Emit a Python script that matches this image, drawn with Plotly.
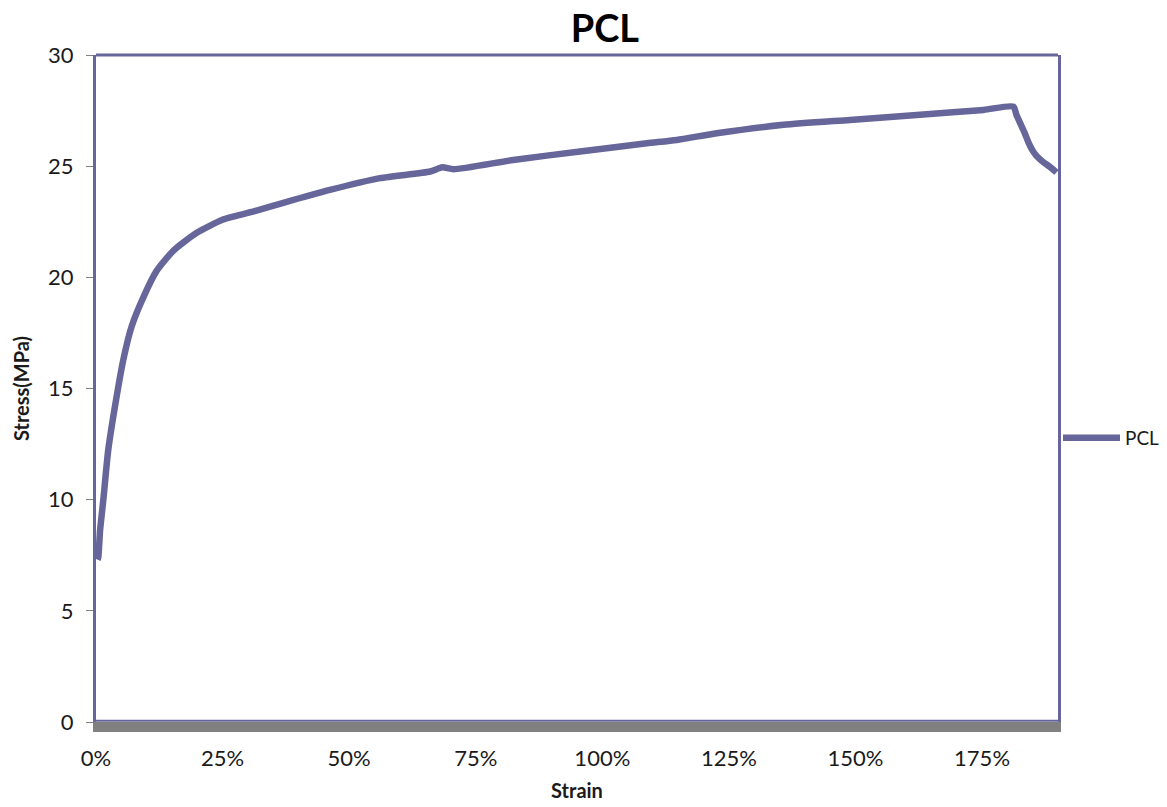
import plotly.graph_objects as go

# Tensile test of PCL: engineering strain (fraction) vs stress (MPa)
strain = [0.003, 0.0045, 0.008, 0.0145, 0.024, 0.0375, 0.054, 0.0705, 0.0935,
          0.120, 0.153, 0.199, 0.251, 0.317, 0.370, 0.462, 0.561, 0.660, 0.684,
          0.706, 0.824, 0.956, 1.088, 1.147, 1.226, 1.358, 1.489, 1.621, 1.753,
          1.812, 1.818, 1.826, 1.834, 1.842, 1.850, 1.858, 1.870, 1.884, 1.897]
stress = [7.3, 7.4, 8.6, 10.0, 12.2, 14.2, 16.3, 17.8, 19.1,
          20.3, 21.2, 22.0, 22.6, 23.0, 23.35, 23.93, 24.46, 24.76, 24.95,
          24.86, 25.28, 25.66, 26.03, 26.18, 26.48, 26.86, 27.08, 27.3, 27.53,
          27.68, 27.3, 26.9, 26.5, 26.05, 25.7, 25.45, 25.2, 24.97, 24.72]

x_ticks = [0, 0.25, 0.5, 0.75, 1.0, 1.25, 1.5, 1.75]
y_ticks = [0, 5, 10, 15, 20, 25, 30]

LINE = "#66669A"
FONT = "Lato"

fig = go.Figure()
fig.add_trace(go.Scatter(
    x=strain, y=stress, mode="lines", name="PCL",
    line=dict(color=LINE, width=6.5, shape="spline", smoothing=0.6),
))

fig.update_layout(
    width=1167, height=807,
    margin=dict(l=96, r=109, t=55, b=85, autoexpand=False),
    paper_bgcolor="white", plot_bgcolor="white",
    font=dict(family=FONT, color="#1a1a1a", size=20),
    title=dict(text="<b>PCL</b>", x=0.529, xref="paper", xanchor="center",
               y=0.965, yanchor="middle",
               font=dict(family=FONT, size=38, color="black")),
    showlegend=True,
    legend=dict(x=1.0, xanchor="left", y=0.426, yanchor="middle",
                font=dict(family=FONT, size=19, color="#1a1a1a"),
                itemwidth=57, bgcolor="rgba(0,0,0,0)"),
    xaxis=dict(
        range=[0, 1.9], tickvals=x_ticks, tickformat=".0%",
        showgrid=False, zeroline=False,
        showline=True, linecolor="#808080", linewidth=10,
        ticks="", ticklabelstandoff=8,
        title=dict(text="<b>Strain</b>", font=dict(size=20, color="#1a1a1a"),
                   standoff=18),
        tickfont=dict(size=22),
    ),
    yaxis=dict(
        range=[0, 30], tickvals=y_ticks,
        showgrid=False, zeroline=False,
        showline=True, linecolor=LINE, linewidth=3, mirror=True,
        ticks="outside", ticklen=7, tickcolor="#808080", tickwidth=1,
        ticklabelstandoff=8,
        title=dict(text="<b>Stress(MPa)</b>", font=dict(size=20, color="#1a1a1a"),
                   standoff=14),
        tickfont=dict(size=22),
    ),
)

# top border and thin purple edge above the grey base line
fig.add_shape(type="line", xref="paper", yref="paper", x0=0, x1=1, y0=1, y1=1,
              line=dict(color=LINE, width=3))
fig.add_shape(type="line", xref="paper", yref="paper", x0=0, x1=1, y0=0.002, y1=0.002,
              line=dict(color=LINE, width=2))

fig.write_html("out.html")
